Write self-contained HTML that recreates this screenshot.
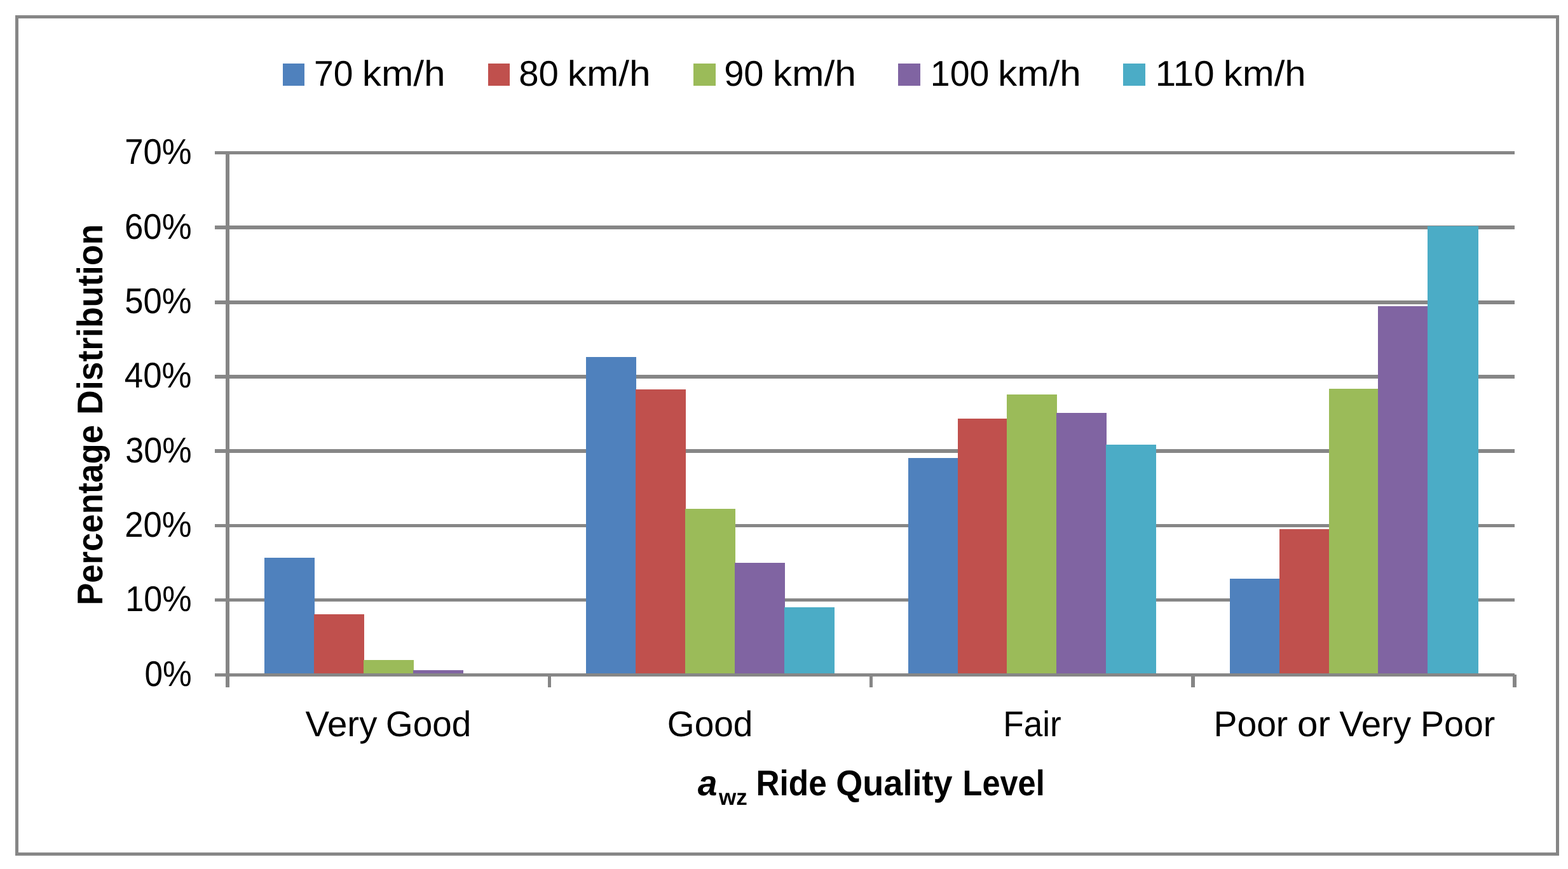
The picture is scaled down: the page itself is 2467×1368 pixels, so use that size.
<!DOCTYPE html>
<html lang="en"><head><meta charset="utf-8">
<title>Percentage distribution of a_wz ride quality level by speed</title>
<style>
html,body{margin:0;padding:0;background:#fff;}
body{width:2467px;height:1368px;overflow:hidden;}
svg{display:block;}
text{font-family:"Liberation Sans", Arial, Helvetica, sans-serif;fill:#000;white-space:pre;text-rendering:geometricPrecision;}
.r{font-size:56.3px;}
.b{font-size:56.3px;font-weight:bold;}
.bi{font-size:56.3px;font-weight:bold;font-style:italic;}
.bs{font-size:35.5px;font-weight:bold;}
</style></head><body>
<svg width="2467" height="1368" viewBox="0 0 2467 1368">
<rect x="0" y="0" width="2467" height="1368" fill="#ffffff"/>
<!-- chart frame -->
<rect x="26.5" y="26.5" width="2424" height="1318" fill="#ffffff" stroke="#868686" stroke-width="5"/>
<!-- horizontal gridlines 70%..10% -->
<g fill="#868686" shape-rendering="crispEdges">
<rect x="338" y="238" width="2045" height="5"/>
<rect x="338" y="355" width="2045" height="6"/>
<rect x="338" y="473" width="2045" height="6"/>
<rect x="338" y="590" width="2045" height="6"/>
<rect x="338" y="707" width="2045" height="6"/>
<rect x="338" y="825" width="2045" height="5"/>
<rect x="338" y="942" width="2045" height="5"/>
</g>
<!-- bars -->
<g shape-rendering="crispEdges">
<rect x="416" y="878" width="79" height="182" fill="#4F81BD"/>
<rect x="494" y="967" width="79" height="93" fill="#C0504D"/>
<rect x="572" y="1039" width="79" height="21" fill="#9BBB59"/>
<rect x="650" y="1055" width="79" height="5" fill="#8064A2"/>
<rect x="922" y="562" width="79" height="498" fill="#4F81BD"/>
<rect x="1000" y="613" width="79" height="447" fill="#C0504D"/>
<rect x="1078" y="801" width="79" height="259" fill="#9BBB59"/>
<rect x="1156" y="886" width="79" height="174" fill="#8064A2"/>
<rect x="1234" y="956" width="79" height="104" fill="#4BACC6"/>
<rect x="1429" y="721" width="79" height="339" fill="#4F81BD"/>
<rect x="1507" y="659" width="79" height="401" fill="#C0504D"/>
<rect x="1584" y="621" width="79" height="439" fill="#9BBB59"/>
<rect x="1662" y="650" width="79" height="410" fill="#8064A2"/>
<rect x="1740" y="700" width="79" height="360" fill="#4BACC6"/>
<rect x="1935" y="911" width="79" height="149" fill="#4F81BD"/>
<rect x="2013" y="833" width="79" height="227" fill="#C0504D"/>
<rect x="2091" y="612" width="79" height="448" fill="#9BBB59"/>
<rect x="2168" y="482" width="79" height="578" fill="#8064A2"/>
<rect x="2246" y="356" width="80" height="704" fill="#4BACC6"/>
</g>
<!-- axes and tick marks -->
<g fill="#868686" shape-rendering="crispEdges">
<rect x="338" y="1060" width="2045" height="5"/>
<rect x="355" y="238" width="6" height="844"/>
<rect x="862" y="1062" width="5" height="20"/>
<rect x="1368" y="1062" width="5" height="20"/>
<rect x="1874" y="1062" width="6" height="20"/>
<rect x="2380" y="1062" width="6" height="20"/>
</g>
<!-- legend swatches -->
<g shape-rendering="crispEdges">
<rect x="445" y="100" width="34" height="35" fill="#4F81BD"/>
<rect x="768" y="100" width="34" height="35" fill="#C0504D"/>
<rect x="1091" y="100" width="35" height="35" fill="#9BBB59"/>
<rect x="1413" y="100" width="35" height="35" fill="#8064A2"/>
<rect x="1767" y="100" width="35" height="35" fill="#4BACC6"/>
</g>
<!-- text -->
<text id="leg70" class="r"><tspan x="494.04" y="135" textLength="61.45" lengthAdjust="spacingAndGlyphs">70</tspan> <tspan x="569.78" y="135" textLength="130.97" lengthAdjust="spacingAndGlyphs">km/h</tspan></text>
<text id="leg80" class="r"><tspan x="816.20" y="135" textLength="62.61" lengthAdjust="spacingAndGlyphs">80</tspan> <tspan x="892.78" y="135" textLength="130.97" lengthAdjust="spacingAndGlyphs">km/h</tspan></text>
<text id="leg90" class="r"><tspan x="1139.21" y="135" textLength="62.29" lengthAdjust="spacingAndGlyphs">90</tspan> <tspan x="1215.77" y="135" textLength="131.29" lengthAdjust="spacingAndGlyphs">km/h</tspan></text>
<text id="leg100" class="r"><tspan x="1463.86" y="135" textLength="92.64" lengthAdjust="spacingAndGlyphs">100</tspan> <tspan x="1569.98" y="135" textLength="130.76" lengthAdjust="spacingAndGlyphs">km/h</tspan></text>
<text id="leg110" class="r"><tspan x="1817.66" y="135" textLength="92.90" lengthAdjust="spacingAndGlyphs">110</tspan> <tspan x="1924.81" y="135" textLength="129.92" lengthAdjust="spacingAndGlyphs">km/h</tspan></text>
<text id="y70" class="r"><tspan x="196.13" y="258" textLength="105.46" lengthAdjust="spacingAndGlyphs">70%</tspan></text>
<text id="y60" class="r"><tspan x="195.92" y="376" textLength="105.67" lengthAdjust="spacingAndGlyphs">60%</tspan></text>
<text id="y50" class="r"><tspan x="196.13" y="493" textLength="105.46" lengthAdjust="spacingAndGlyphs">50%</tspan></text>
<text id="y40" class="r"><tspan x="195.86" y="610" textLength="105.73" lengthAdjust="spacingAndGlyphs">40%</tspan></text>
<text id="y30" class="r"><tspan x="197.15" y="728" textLength="104.43" lengthAdjust="spacingAndGlyphs">30%</tspan></text>
<text id="y20" class="r"><tspan x="196.13" y="845" textLength="105.46" lengthAdjust="spacingAndGlyphs">20%</tspan></text>
<text id="y10" class="r"><tspan x="197.30" y="962" textLength="104.28" lengthAdjust="spacingAndGlyphs">10%</tspan></text>
<text id="y0" class="r"><tspan x="227.38" y="1080" textLength="74.19" lengthAdjust="spacingAndGlyphs">0%</tspan></text>
<text id="xVG" class="r"><tspan x="480.50" y="1159" textLength="112.85" lengthAdjust="spacingAndGlyphs">Very</tspan> <tspan x="607.05" y="1159" textLength="134.17" lengthAdjust="spacingAndGlyphs">Good</tspan></text>
<text id="xG" class="r"><tspan x="1049.85" y="1159" textLength="134.59" lengthAdjust="spacingAndGlyphs">Good</tspan></text>
<text id="xF" class="r"><tspan x="1578.23" y="1159" textLength="91.48" lengthAdjust="spacingAndGlyphs">Fair</tspan></text>
<text id="xP" class="r"><tspan x="1909.58" y="1159" textLength="116.66" lengthAdjust="spacingAndGlyphs">Poor</tspan> <tspan x="2041.13" y="1159" textLength="51.85" lengthAdjust="spacingAndGlyphs">or</tspan> <tspan x="2107.20" y="1159" textLength="112.95" lengthAdjust="spacingAndGlyphs">Very</tspan> <tspan x="2235.06" y="1159" textLength="117.18" lengthAdjust="spacingAndGlyphs">Poor</tspan></text>
<text id="xtitle" class="b"><tspan class="bi" x="1097.80" y="1252" textLength="30.74" lengthAdjust="spacingAndGlyphs">a</tspan><tspan class="bs" x="1130.99" y="1267" textLength="44.75" lengthAdjust="spacingAndGlyphs">wz</tspan> <tspan x="1189.46" y="1252" textLength="111.23" lengthAdjust="spacingAndGlyphs">Ride</tspan> <tspan x="1315.28" y="1252" textLength="183.22" lengthAdjust="spacingAndGlyphs">Quality</tspan> <tspan x="1514.51" y="1252" textLength="129.26" lengthAdjust="spacingAndGlyphs">Level</tspan></text>
<text id="ytitle" class="b" transform="translate(161 949) rotate(-90)"><tspan x="-3.81" y="0" textLength="283.83" lengthAdjust="spacingAndGlyphs">Percentage</tspan> <tspan x="296.35" y="0" textLength="299.87" lengthAdjust="spacingAndGlyphs">Distribution</tspan></text>
</svg></body></html>
